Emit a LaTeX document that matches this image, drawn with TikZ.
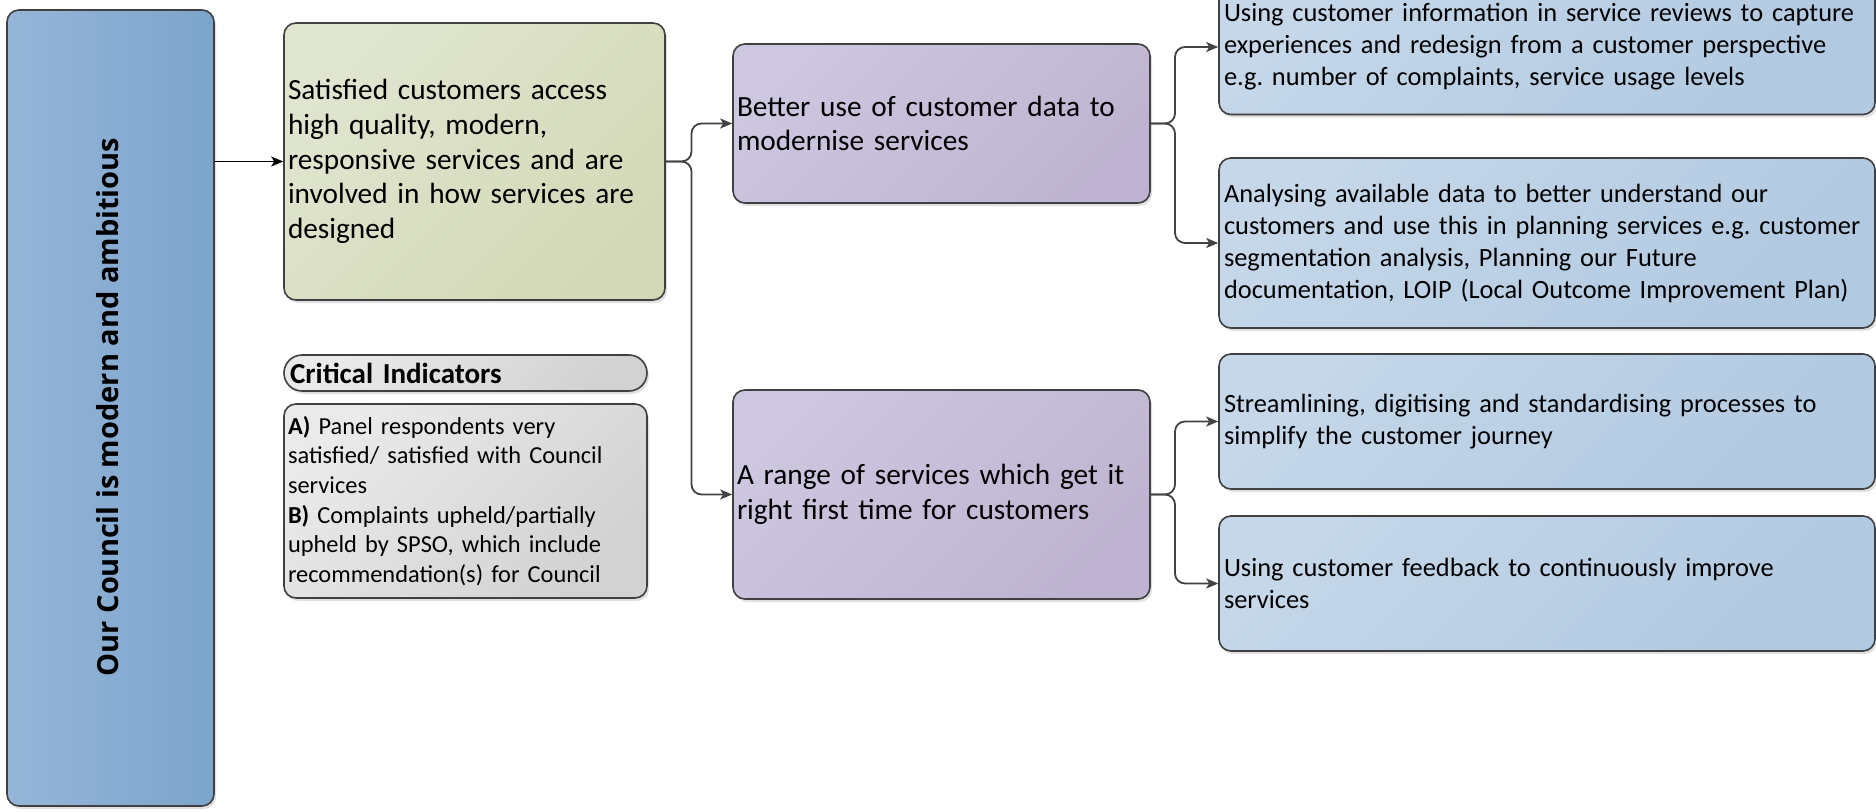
\documentclass[tikz,border=0pt]{standalone}
\usepackage{fontspec}
\setmainfont{Carlito}
\newfontfamily\titlefont{Open Sans}
\usetikzlibrary{arrows.meta,shadows,calc}
\definecolor{boxline}{RGB}{64,64,64}
\definecolor{connc}{RGB}{66,66,66}
\definecolor{lbA}{RGB}{150,182,216}
\definecolor{lbB}{RGB}{124,164,204}
\definecolor{grA}{RGB}{224,229,208}
\definecolor{grB}{RGB}{211,217,182}
\definecolor{puA}{RGB}{206,199,224}
\definecolor{puB}{RGB}{190,180,209}
\definecolor{blA}{RGB}{197,215,233}
\definecolor{blB}{RGB}{177,201,225}
\definecolor{gyA}{RGB}{234,234,234}
\definecolor{gyB}{RGB}{210,210,210}
\frenchspacing
\begin{document}
\begin{tikzpicture}[x=1pt,y=-1pt,
  box/.style={draw=boxline, line width=1.6pt, rounded corners=12pt, inner xsep=4pt, inner ysep=2pt,
    align=left, anchor=center,
    drop shadow={shadow xshift=2pt,shadow yshift=-3pt,fill=black,opacity=0.12}},
  leftfill/.style={left color=lbA, right color=lbB},
  greenfill/.style={top color=grA, bottom color=grB, shading angle=45},
  purplefill/.style={top color=puA, bottom color=puB, shading angle=45},
  bluefill/.style={top color=blA, bottom color=blB, shading angle=45},
  grayfill/.style={top color=gyA, bottom color=gyB, shading angle=45},
  bigtext/.style={font=\fontsize{29.3}{34.7}\selectfont},
  bluetext/.style={font=\fontsize{26.4}{32}\selectfont, inner xsep=5pt},
  conn/.style={draw=connc, line width=1.8pt, rounded corners=10pt, -{Stealth[length=12pt,width=10pt,inset=3pt]}},
]
\useasboundingbox (0,0) rectangle (1876,811);

% left column
\node[box, leftfill, minimum width=207pt, minimum height=796pt] (L) at (110.5,408) {};
\node[rotate=90, font=\titlefont\bfseries\fontsize{29}{34}\selectfont, inner sep=0pt] (Lt) at (108,407) {Our Council is modern and ambitious};

% outcome
\node[box, greenfill, bigtext, minimum height=277pt, text width=373pt] (G) at (474.5,161.5)
 {Satisfied customers access\\high quality, modern,\\responsive services and are\\involved in how services are\\designed};

% critical indicators
\node[box, grayfill, rounded corners=18pt, minimum height=36pt, text width=351pt, inner xsep=6pt, inner ysep=0pt,
  font=\bfseries\fontsize{29}{32}\selectfont] (CI) at (465.5,373) {Critical Indicators};
\node[box, grayfill, minimum height=194pt, text width=355pt, font=\fontsize{24.4}{29.7}\selectfont] (CB) at (465.5,501)
 {\textbf{A)} Panel respondents very\\satisfied/ satisfied with Council\\services\\\textbf{B)} Complaints upheld/partially\\upheld by SPSO, which include\\recommendation(s) for Council};

% middle
\node[box, purplefill, bigtext, minimum height=159pt, text width=409pt] (P1) at (941.5,123.5)
 {Better use of customer data to\\modernise services};
\node[box, purplefill, bigtext, minimum height=209pt, text width=409pt] (P2) at (941.5,494.5)
 {A range of services which get it\\right first time for customers};

% right
\node[box, bluefill, bluetext, minimum height=135pt, text width=646pt] (B1) at (1547,47)
 {Using customer information in service reviews to capture\\experiences and redesign from a customer perspective\\e.g. number of complaints, service usage levels};
\node[box, bluefill, bluetext, minimum height=170pt, text width=646pt] (B2) at (1547,243)
 {Analysing available data to better understand our\\customers and use this in planning services e.g. customer\\segmentation analysis, Planning our Future\\documentation, LOIP (Local Outcome Improvement Plan)};
\node[box, bluefill, bluetext, minimum height=135pt, text width=646pt] (B3) at (1547,421.5)
 {Streamlining, digitising and standardising processes to\\simplify the customer journey};
\node[box, bluefill, bluetext, minimum height=135pt, text width=646pt] (B4) at (1547,583.5)
 {Using customer feedback to continuously improve\\services};

% connectors
\draw[conn, draw=black, line width=1.5pt] (L.east |- G.west) -- (G.west);
\coordinate (j1) at (691.5,161.5);
\draw[conn] (G.east) -- (j1) |- (P1.west);
\draw[conn] (G.east) -- (j1) |- (P2.west);
\coordinate (j2) at (1175,123.5);
\draw[conn] (P1.east) -- (j2) |- (B1.west);
\draw[conn] (P1.east) -- (j2) |- (B2.west);
\coordinate (j3) at (1175,494.5);
\draw[conn] (P2.east) -- (j3) |- (B3.west);
\draw[conn] (P2.east) -- (j3) |- (B4.west);
\end{tikzpicture}
\end{document}
